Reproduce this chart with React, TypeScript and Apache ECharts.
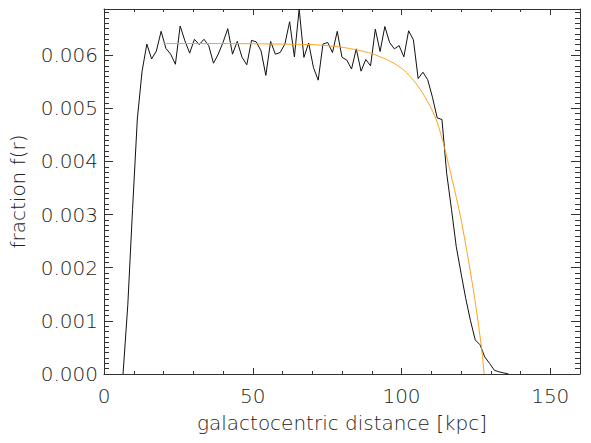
import React, { useEffect, useRef } from "react";
import * as echarts from "echarts";

const rBlack = [6.4, 8.0, 9.6, 11.2, 12.8, 14.4, 16.0, 17.6, 19.2, 20.8, 22.4, 24.0, 25.6, 27.2, 28.8, 30.4, 32.0, 33.6, 35.2, 36.8, 38.4, 40.0, 41.6, 43.2, 44.8, 46.4, 48.0, 49.6, 51.2, 52.8, 54.4, 56.0, 57.6, 59.2, 60.8, 62.4, 64.0, 65.6, 67.2, 68.8, 70.4, 72.0, 73.6, 75.2, 76.8, 78.4, 80.0, 81.6, 83.2, 84.8, 86.4, 88.0, 89.6, 91.2, 92.8, 94.4, 96.0, 97.6, 99.2, 100.8, 102.4, 104.0, 105.6, 107.2, 108.8, 110.4, 112.0, 113.6, 115.2, 116.8, 118.4, 120.0, 121.6, 123.2, 124.8, 126.4, 128.0, 129.6, 131.2, 132.8, 134.4, 136.0];
const fBlack = [0, 0.0013, 0.0031, 0.0048, 0.0057, 0.00621, 0.00593, 0.00608, 0.00645, 0.00613, 0.00602, 0.00583, 0.00655, 0.00627, 0.00604, 0.0063, 0.0062, 0.0063, 0.00618, 0.00585, 0.00602, 0.00624, 0.0065, 0.00602, 0.00626, 0.00596, 0.00582, 0.00628, 0.00625, 0.00608, 0.00562, 0.00626, 0.00602, 0.00605, 0.00621, 0.00663, 0.00597, 0.00687, 0.00596, 0.00623, 0.00577, 0.00553, 0.00621, 0.00624, 0.00605, 0.00645, 0.00596, 0.00591, 0.00574, 0.00612, 0.0057, 0.00592, 0.0058, 0.00649, 0.00607, 0.00654, 0.00624, 0.00612, 0.00618, 0.00597, 0.00646, 0.00629, 0.00556, 0.00568, 0.00554, 0.00521, 0.00482, 0.00479, 0.00377, 0.0031, 0.0024, 0.0019, 0.00142, 0.001, 0.00064, 0.00055, 0.00032, 0.0002, 0.00007, 0.00004, 0.00002, 0];

const rFit = [20, 40, 60, 70, 75, 80, 85, 90, 95, 98, 101, 104, 107, 110, 112, 114, 116, 118, 120, 122, 124, 125, 126, 127, 127.8];
const fFit = [0.00622, 0.00622, 0.00621, 0.0062, 0.00618, 0.00615, 0.0061, 0.00603, 0.00592, 0.00583, 0.00571, 0.00553, 0.0053, 0.005, 0.00474, 0.00436, 0.0039, 0.00343, 0.00292, 0.0023, 0.00164, 0.00127, 0.00088, 0.00044, 0];

const X_MIN = 0;
const X_MAX = 160;
const Y_MIN = 0;
const Y_MAX = 0.00687;

const FONT = "DejaVu Sans";
const TEXT = "#222";
const AXIS = "#333";

export default function App() {
  const ref = useRef<HTMLDivElement>(null);
  useEffect(() => {
    if (!ref.current) return;
    const chart = echarts.init(ref.current, null, { renderer: "svg" });
    const xBase = (pos: string, interval: number, len: number, labels: boolean, line: boolean, name?: string) => ({
      type: "value",
      position: pos,
      min: X_MIN,
      max: X_MAX,
      interval,
      name: name || "",
      nameLocation: "middle",
      nameGap: 39,
      nameTextStyle: { fontFamily: FONT, fontSize: 20, color: TEXT, fontWeight: 200 },
      axisLine: { show: line, onZero: false, lineStyle: { color: AXIS, width: 1 } },
      axisTick: { show: true, inside: true, length: len, lineStyle: { color: AXIS, width: 1 } },
      axisLabel: {
        show: labels,
        showMaxLabel: false,
        margin: 12,
        fontFamily: FONT,
        fontSize: 20,
        fontWeight: 200,
        color: TEXT,
      },
      splitLine: { show: false },
    });
    const yBase = (pos: string, interval: number, len: number, labels: boolean, line: boolean, name?: string) => ({
      type: "value",
      position: pos,
      min: Y_MIN,
      max: Y_MAX,
      interval,
      name: name || "",
      nameLocation: "middle",
      nameGap: 76,
      nameTextStyle: { fontFamily: FONT, fontSize: 20, color: TEXT, fontWeight: 200 },
      axisLine: { show: line, onZero: false, lineStyle: { color: AXIS, width: 1 } },
      axisTick: { show: true, inside: true, length: len, lineStyle: { color: AXIS, width: 1 } },
      axisLabel: {
        show: labels,
        showMaxLabel: false,
        margin: 6,
        fontFamily: FONT,
        fontSize: 20,
        fontWeight: 200,
        color: TEXT,
        formatter: (v: number) => v.toFixed(3),
      },
      splitLine: { show: false },
    });
    chart.setOption({
      animation: false,
      backgroundColor: "#fff",
      grid: { left: 104, right: 11, top: 9, bottom: 69, containLabel: false },
      xAxis: [
        xBase("bottom", 50, 6, true, true, "galactocentric distance [kpc]"),
        xBase("bottom", 10, 3, false, false),
        xBase("top", 50, 6, false, true),
        xBase("top", 10, 3, false, false),
      ],
      yAxis: [
        yBase("left", 0.001, 9, true, true, "fraction f(r)"),
        yBase("left", 0.0001, 5, false, false),
        yBase("right", 0.001, 9, false, true),
        yBase("right", 0.0001, 5, false, false),
      ],
      series: [
        {
          type: "line",
          xAxisIndex: 0,
          yAxisIndex: 0,
          data: rBlack.map((r, i) => [r, fBlack[i]]),
          showSymbol: false,
          symbol: "none",
          lineStyle: { color: "#111", width: 1 },
          clip: true,
        },
        {
          type: "line",
          xAxisIndex: 0,
          yAxisIndex: 0,
          data: rFit.map((r, i) => [r, fFit[i]]),
          showSymbol: false,
          symbol: "none",
          smooth: 0.2,
          lineStyle: { color: "#ffa01e", width: 1 },
          clip: true,
        },
      ],
    });
    return () => chart.dispose();
  }, []);
  return (
    <div
      ref={ref}
      style={{ position: "fixed", left: 0, top: 0, width: 591, height: 443, background: "#fff" }}
    />
  );
}
